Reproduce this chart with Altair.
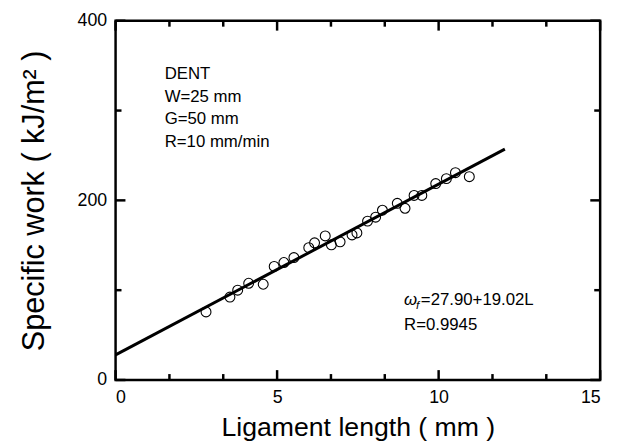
import altair as alt
import pandas as pd

# Data
lig_len = [2.80, 3.54, 3.78, 4.12, 4.57, 4.91, 5.21, 5.52, 5.98, 6.16, 6.49, 6.68, 6.95,
           7.32, 7.47, 7.80, 8.05, 8.26, 8.72, 8.96, 9.24, 9.48, 9.91, 10.24, 10.52, 10.95]
spec_work = [75.8, 92.3, 100.0, 107.7, 106.6, 126.4, 130.8, 136.3, 147.3, 152.7, 160.4, 150.5, 153.8,
             161.5, 163.7, 176.9, 181.3, 189.0, 196.7, 191.2, 205.5, 205.5, 218.7, 224.2, 230.8, 226.4]
fit_x = [0.0, 12.05]
fit_y = [27.9, 257.1]

x_major = [0, 5, 10, 15]
x_minor = [1.667, 3.333, 6.667, 8.333, 11.667, 13.333]
y_major = [0, 200, 400]
y_minor = [100, 300]

info_lines = ["DENT", "W=25 mm", "G=50 mm", "R=10 mm/min"]
info_y = [341, 315.5, 290, 264.5]
info_x = 1.52

W, H = 491, 364
FONT = "Liberation Sans"

pts = pd.DataFrame({"x": lig_len, "y": spec_work})
fit = pd.DataFrame({"x": fit_x, "y": fit_y})

xs = alt.Scale(domain=[0, 15], nice=False, zero=False)
ys = alt.Scale(domain=[0, 400], nice=False, zero=False)

x_axis = alt.Axis(values=x_major, ticks=False, tickSize=0, domain=False, grid=False,
                  labelFont=FONT, labelFontSize=18, labelColor="black", labelPadding=9,
                  title="Ligament length ( mm )", titleFont=FONT, titleFontSize=27,
                  titleFontWeight="normal", titleColor="black", titlePadding=8)
y_axis = alt.Axis(values=y_major, ticks=False, tickSize=0, domain=False, grid=False,
                  labelFont=FONT, labelFontSize=18, labelColor="black", labelPadding=9,
                  title="Specific work ( kJ/m² )", titleFont=FONT, titleFontSize=31,
                  titleFontWeight="normal", titleColor="black", titlePadding=27)

line = alt.Chart(fit).mark_line(color="black", strokeWidth=3).encode(
    x=alt.X("x:Q", scale=xs, axis=x_axis),
    y=alt.Y("y:Q", scale=ys, axis=y_axis),
)

points = alt.Chart(pts).mark_point(shape="circle", filled=False, color="black",
                                   strokeWidth=1.1, size=100, opacity=1).encode(
    x=alt.X("x:Q", scale=xs),
    y=alt.Y("y:Q", scale=ys),
)

TICK_W = 2.5
TICK_C = "black"

def xticks(vals, length):
    d = pd.DataFrame({"v": vals})
    bottom = alt.Chart(d).mark_rule(color=TICK_C, strokeWidth=TICK_W).encode(
        x=alt.X("v:Q", scale=xs), y=alt.value(H), y2=alt.value(H - length))
    top = alt.Chart(d).mark_rule(color=TICK_C, strokeWidth=TICK_W).encode(
        x=alt.X("v:Q", scale=xs), y=alt.value(0), y2=alt.value(length))
    return [bottom, top]

def yticks(vals, length):
    d = pd.DataFrame({"v": vals})
    left = alt.Chart(d).mark_rule(color=TICK_C, strokeWidth=TICK_W).encode(
        y=alt.Y("v:Q", scale=ys), x=alt.value(0), x2=alt.value(length))
    right = alt.Chart(d).mark_rule(color=TICK_C, strokeWidth=TICK_W).encode(
        y=alt.Y("v:Q", scale=ys), x=alt.value(W), x2=alt.value(W - length))
    return [left, right]

ticks = xticks(x_major, 10) + xticks(x_minor, 6) + yticks(y_major, 10) + yticks(y_minor, 6)

info = alt.Chart(pd.DataFrame({"t": info_lines, "x": [info_x] * 4, "y": info_y})).mark_text(
    align="left", baseline="middle", font=FONT, fontSize=17, color="black").encode(
    x=alt.X("x:Q", scale=xs), y=alt.Y("y:Q", scale=ys), text="t:N")

eq_x = 8.93
eq_df = pd.DataFrame({"x": [eq_x], "y": [89]})
omega = alt.Chart(eq_df).mark_text(align="left", baseline="middle", font=FONT, fontSize=17,
                                   fontStyle="italic", color="black").encode(
    x=alt.X("x:Q", scale=xs), y=alt.Y("y:Q", scale=ys), text=alt.value("ω"))
sub_f = alt.Chart(eq_df).mark_text(align="left", baseline="middle", font=FONT, fontSize=12,
                                   fontStyle="italic", color="black", dx=12, dy=5).encode(
    x=alt.X("x:Q", scale=xs), y=alt.Y("y:Q", scale=ys), text=alt.value("f"))
eq_rest = alt.Chart(eq_df).mark_text(align="left", baseline="middle", font=FONT, fontSize=17,
                                     color="black", dx=17).encode(
    x=alt.X("x:Q", scale=xs), y=alt.Y("y:Q", scale=ys), text=alt.value("=27.90+19.02L"))
r_txt = alt.Chart(pd.DataFrame({"x": [eq_x], "y": [61.5]})).mark_text(
    align="left", baseline="middle", font=FONT, fontSize=17, color="black").encode(
    x=alt.X("x:Q", scale=xs), y=alt.Y("y:Q", scale=ys), text=alt.value("R=0.9945"))

chart = alt.layer(line, points, *ticks, info, omega, sub_f, eq_rest, r_txt).properties(
    width=W, height=H,
    autosize=alt.AutoSizeParams(type="none"),
    padding={"left": 109, "top": 10, "right": 12, "bottom": 66},
    background="white",
).configure_view(stroke="black", strokeWidth=2.5)

chart.save("out.html", embed_options={"renderer": "svg", "actions": False})
